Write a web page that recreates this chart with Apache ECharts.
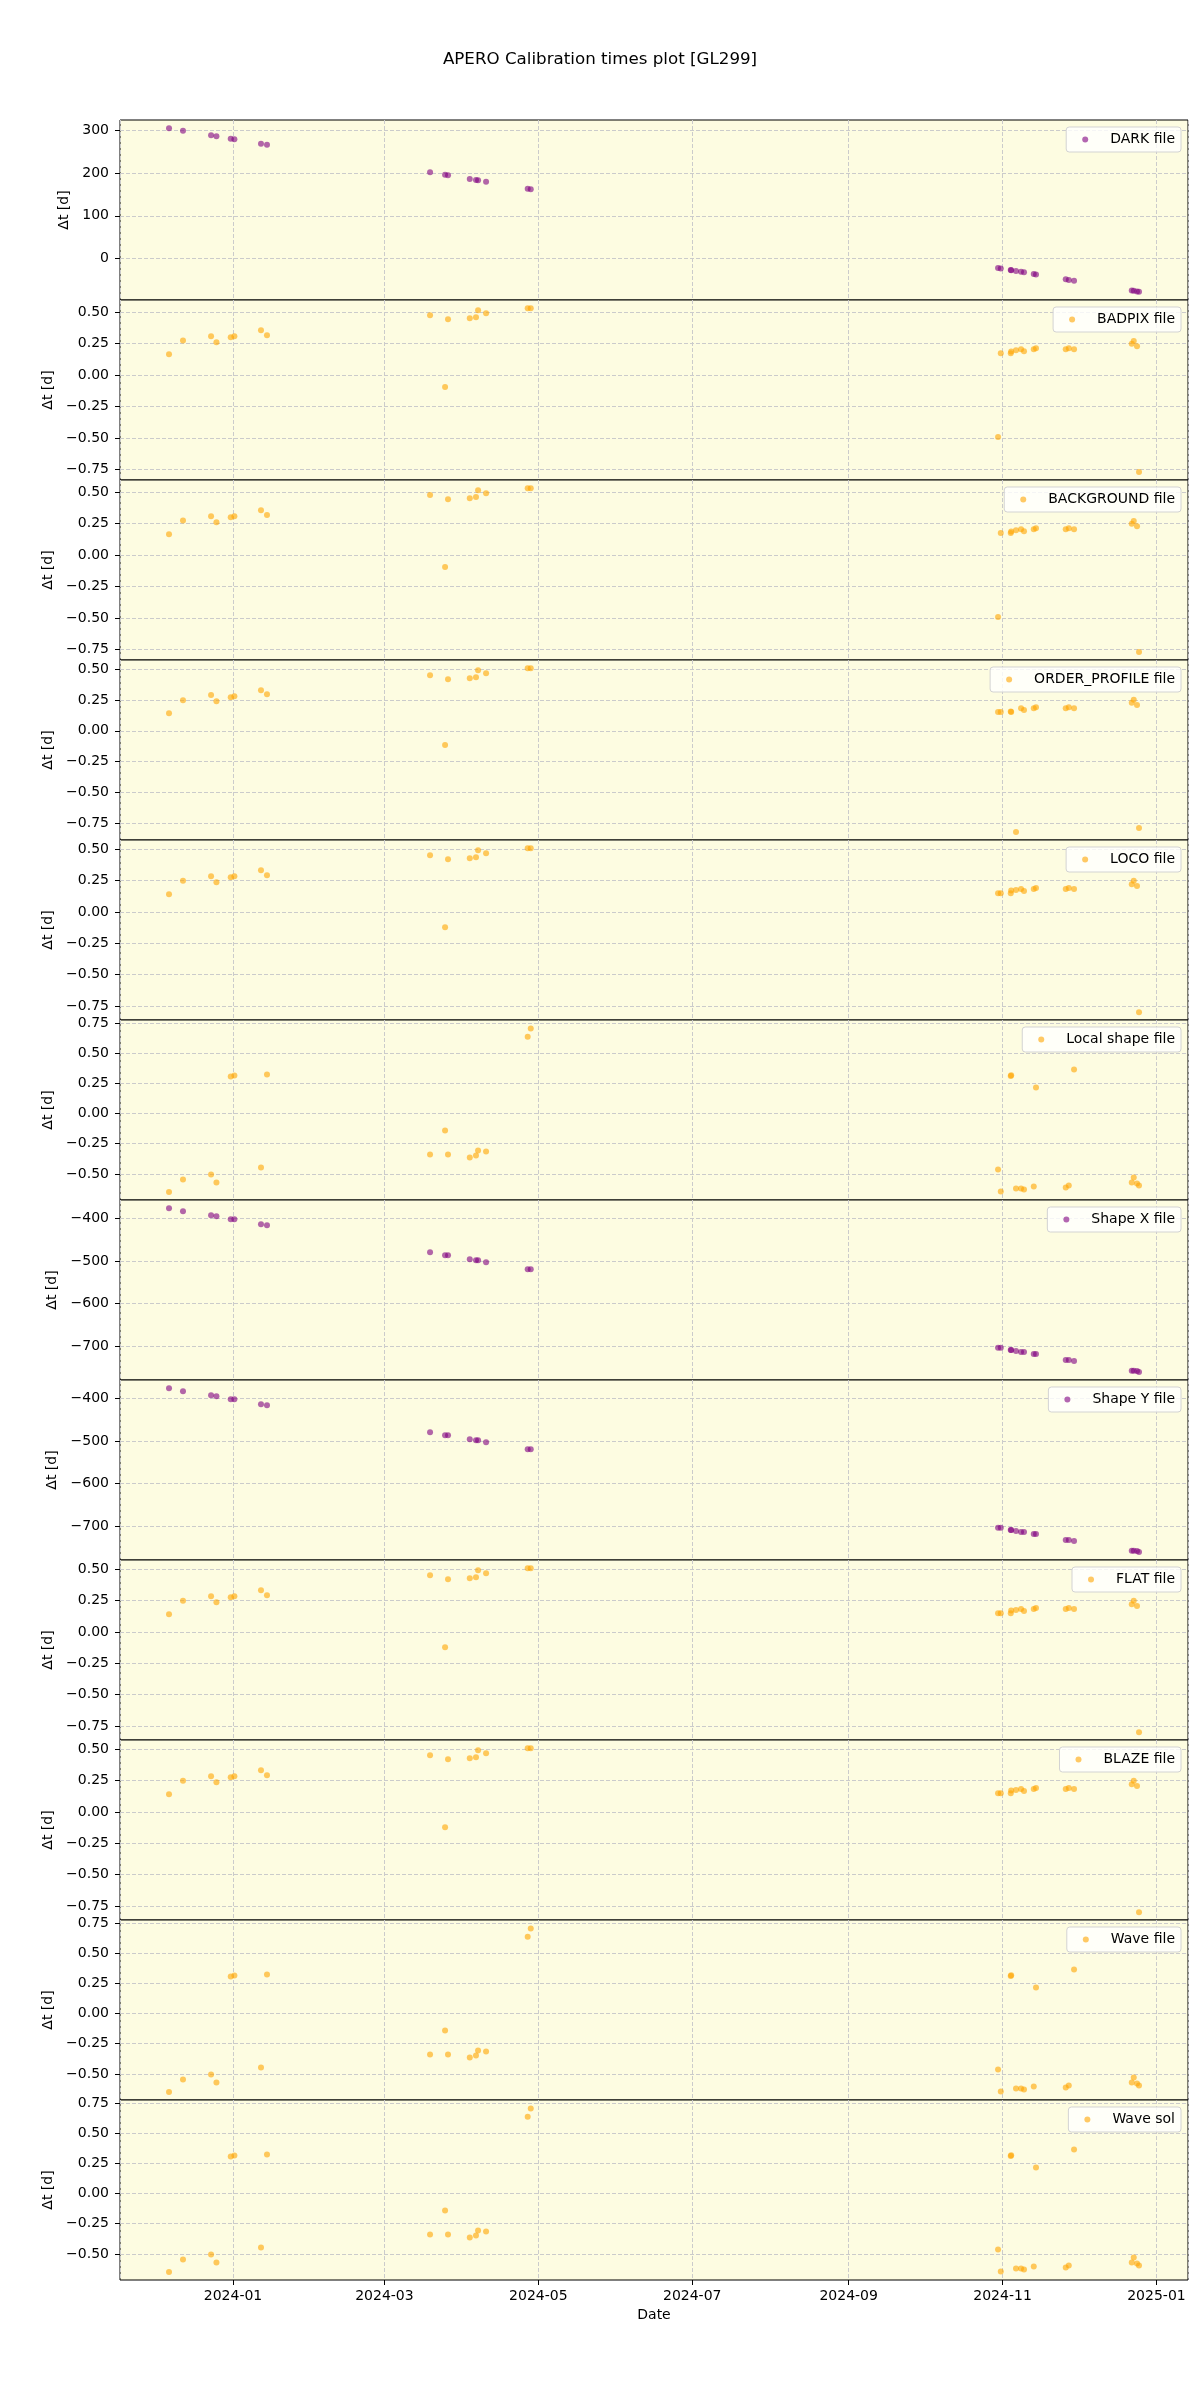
<!DOCTYPE html>
<html><head><meta charset="utf-8">
<script src="https://cdn.jsdelivr.net/npm/echarts@6/dist/echarts.min.js"></script>
<style>html,body{margin:0;padding:0;background:#fff}#c{width:1200px;height:2400px}</style>
</head><body><div id="c"></div><script>
// observation dates (shared by all panels)
const obsDates = [
 '2023-12-06 15:00','2023-12-12 04:00','2023-12-23 07:00','2023-12-25 10:00','2023-12-31 02:00','2024-01-01 13:00','2024-01-12 02:00','2024-01-14 11:00',
 '2024-03-19 02:00','2024-03-25 01:00','2024-03-26 05:00','2024-04-03 20:00','2024-04-06 07:00','2024-04-07 03:00','2024-04-10 07:00','2024-04-26 19:00','2024-04-28 00:00',
 '2024-10-30 05:00','2024-10-31 07:00','2024-11-04 06:00','2024-11-04 10:00','2024-11-06 08:00','2024-11-08 08:00','2024-11-09 12:00','2024-11-13 09:00','2024-11-14 06:00',
 '2024-11-26 01:00','2024-11-27 06:00','2024-11-29 08:00','2024-12-22 05:00','2024-12-23 00:00','2024-12-24 07:00','2024-12-25 02:00'
];
const darkFile = [305.9,300.0,289.2,287.1,281.4,280.0,269.4,267.0, 202.4,196.5,195.3,186.7,184.2,183.4,180.2,163.7,162.5,
 -22.7,-23.8,-27.7,-27.9,-29.8,-31.8,-33.0,-36.9,-37.8,-49.5,-50.7,-52.8,-75.7,-76.5,-77.8,-78.6];
const badpixFile = [0.167,0.275,0.31,0.262,0.302,0.31,0.357,0.318, 0.477,-0.095,0.445,0.453,0.461,0.516,0.492,0.532,0.532,
 -0.492,0.175,0.175,0.188,0.198,0.206,0.19,0.206,0.214,0.206,0.214,0.206,0.249,0.272,0.23,-0.77];
const backgroundFile = [0.167,0.275,0.31,0.262,0.302,0.31,0.357,0.318, 0.477,-0.095,0.445,0.453,0.461,0.516,0.492,0.532,0.532,
 -0.492,0.175,0.175,0.188,0.198,0.206,0.19,0.206,0.214,0.206,0.214,0.206,0.249,0.272,0.23,-0.77];
const orderProfileFile = [0.143,0.249,0.29,0.241,0.273,0.281,0.33,0.298, 0.452,-0.116,0.42,0.428,0.436,0.493,0.468,0.509,0.509,
 0.152,0.152,0.157,0.152,-0.822,0.184,0.168,0.184,0.192,0.184,0.192,0.184,0.227,0.252,0.209,-0.79];
const locoFile = [0.141,0.247,0.284,0.236,0.276,0.284,0.332,0.292, 0.451,-0.122,0.419,0.427,0.435,0.491,0.467,0.507,0.507,
 0.149,0.149,0.149,0.17,0.175,0.183,0.167,0.183,0.191,0.183,0.191,0.183,0.22,0.247,0.207,-0.798];
const localShapeFile = [-0.649,-0.546,-0.505,-0.571,0.306,0.315,-0.447,0.323, -0.339,-0.141,-0.339,-0.364,-0.348,-0.306,-0.315,0.637,0.704,
 -0.464,-0.646,0.311,0.318,-0.621,-0.621,-0.629,-0.604,0.215,-0.613,-0.596,0.364,-0.571,-0.53,-0.58,-0.596];
const shapeXFile = [-376.6,-383.6,-393,-395.3,-402.3,-402.3,-414,-416.4, -479.7,-486.7,-486.7,-496,-498.4,-498.4,-503.1,-519.5,-519.5,
 -704,-704,-709.4,-709.4,-711.7,-714,-714,-718.7,-718.7,-732.8,-732.8,-735.1,-757.9,-757.9,-758.5,-760.5];
const shapeYFile = [-376.6,-383.6,-393,-395.3,-402.3,-402.3,-414,-416.4, -479.7,-486.7,-486.7,-496,-498.4,-498.4,-503.1,-519.5,-519.5,
 -704,-704,-709.4,-709.4,-711.7,-714,-714,-718.7,-718.7,-732.8,-732.8,-735.1,-757.9,-757.9,-758.5,-760.5];
const flatFile = [0.141,0.247,0.284,0.236,0.276,0.284,0.332,0.292, 0.451,-0.122,0.419,0.427,0.435,0.491,0.467,0.507,0.507,
 0.149,0.149,0.149,0.17,0.175,0.183,0.167,0.183,0.191,0.183,0.191,0.183,0.22,0.247,0.207,-0.798];
const blazeFile = [0.141,0.247,0.284,0.236,0.276,0.284,0.332,0.292, 0.451,-0.122,0.419,0.427,0.435,0.491,0.467,0.507,0.507,
 0.149,0.149,0.149,0.17,0.175,0.183,0.167,0.183,0.191,0.183,0.191,0.183,0.22,0.247,0.207,-0.798];
const waveFile = [-0.649,-0.546,-0.505,-0.571,0.306,0.315,-0.447,0.323, -0.339,-0.141,-0.339,-0.364,-0.348,-0.306,-0.315,0.637,0.704,
 -0.464,-0.646,0.311,0.318,-0.621,-0.621,-0.629,-0.604,0.215,-0.613,-0.596,0.364,-0.571,-0.53,-0.58,-0.596];
const waveSol = [-0.649,-0.546,-0.505,-0.571,0.306,0.315,-0.447,0.323, -0.339,-0.141,-0.339,-0.364,-0.348,-0.306,-0.315,0.637,0.704,
 -0.464,-0.646,0.311,0.318,-0.621,-0.621,-0.629,-0.604,0.215,-0.613,-0.596,0.364,-0.571,-0.53,-0.58,-0.596];

// tick label values
const ticksDark = [0,100,200,300];
const ticksQuarter = [-0.75,-0.5,-0.25,0,0.25,0.5];
const ticksQuarterHi = [-0.5,-0.25,0,0.25,0.5,0.75];
const ticksShape = [-700,-600,-500,-400];

const panels = [
 {name:'DARK file', values:darkFile, color:'purple', min:-98, max:325.2, step:100, ticks:ticksDark, dec:0, gap:38},
 {name:'BADPIX file', values:badpixFile, color:'orange', min:-0.834, max:0.598, step:0.25, ticks:ticksQuarter, dec:2, gap:54},
 {name:'BACKGROUND file', values:backgroundFile, color:'orange', min:-0.833, max:0.597, step:0.25, ticks:ticksQuarter, dec:2, gap:54},
 {name:'ORDER_PROFILE file', values:orderProfileFile, color:'orange', min:-0.888, max:0.5755, step:0.25, ticks:ticksQuarter, dec:2, gap:54},
 {name:'LOCO file', values:locoFile, color:'orange', min:-0.86, max:0.572, step:0.25, ticks:ticksQuarter, dec:2, gap:54},
 {name:'Local shape file', values:localShapeFile, color:'orange', min:-0.716, max:0.775, step:0.25, ticks:ticksQuarterHi, dec:2, gap:54},
 {name:'Shape X file', values:shapeXFile, color:'purple', min:-779.5, max:-357.2, step:100, ticks:ticksShape, dec:0, gap:51},
 {name:'Shape Y file', values:shapeYFile, color:'purple', min:-779.5, max:-357.2, step:100, ticks:ticksShape, dec:0, gap:51},
 {name:'FLAT file', values:flatFile, color:'orange', min:-0.86, max:0.572, step:0.25, ticks:ticksQuarter, dec:2, gap:54},
 {name:'BLAZE file', values:blazeFile, color:'orange', min:-0.86, max:0.572, step:0.25, ticks:ticksQuarter, dec:2, gap:54},
 {name:'Wave file', values:waveFile, color:'orange', min:-0.716, max:0.775, step:0.25, ticks:ticksQuarterHi, dec:2, gap:54},
 {name:'Wave sol', values:waveSol, color:'orange', min:-0.716, max:0.775, step:0.25, ticks:ticksQuarterHi, dec:2, gap:54}
];

const xMin = new Date(2023,10,17,4,48).getTime();
const xMax = new Date(2025,0,13,12,0).getTime();
const FONT = 'DejaVu Sans';
const TOP0 = 120, PH = 180, LEFT = 120, PW = 1068;
const gridLine = {lineStyle:{type:[4,2], color:'#cbcbcb', width:1}};
const fmtNum = (v, dec) => {
  let s = Math.abs(v) < 1e-9 ? (0).toFixed(dec) : v.toFixed(dec);
  return s.replace('-', '\u2212');
};
const fmtDate = v => { const d = new Date(v); return d.getFullYear() + '-' + String(d.getMonth()+1).padStart(2,'0'); };

const grids = [], xAxes = [], yAxes = [], series = [], legends = [];
panels.forEach((p, i) => {
  const top = TOP0 + PH*i;
  const last = i === panels.length - 1;
  grids.push({left:LEFT, width:PW, top:top, height:PH, show:true, backgroundColor:'#fdfce1', borderColor:'#000', borderWidth:1, containLabel:false});
  xAxes.push({type:'time', gridIndex:i, min:xMin, max:xMax, splitNumber:5, position:'bottom',
    axisLine:{show:false, onZero:false}, axisTick:{show:last, length:5, lineStyle:{color:'#000'}},
    axisLabel:{show:last, formatter:fmtDate, margin:9, fontSize:14, color:'#000', fontFamily:FONT, hideOverlap:false},
    splitLine:Object.assign({show:true}, gridLine),
    name: last ? 'Date' : '', nameLocation:'middle', nameGap:28, nameTextStyle:{fontSize:14, color:'#000', fontFamily:FONT}});
  yAxes.push({type:'value', gridIndex:i, min:p.min, max:p.max, minInterval:p.step, maxInterval:p.step,
    axisLine:{show:false, onZero:false},
    axisTick:{show:true, length:5, lineStyle:{color:'#000'}, customValues:p.ticks},
    axisLabel:{customValues:p.ticks, margin:11, fontSize:14, color:'#000', fontFamily:FONT, formatter:v => fmtNum(v, p.dec)},
    splitLine:Object.assign({show:true}, gridLine),
    name:'\u0394t [d]', nameLocation:'middle', nameGap:p.gap, nameTextStyle:{fontSize:14, color:'#000', fontFamily:FONT}});
  series.push({type:'scatter', name:p.name, xAxisIndex:i, yAxisIndex:i, symbol:'circle', symbolSize:6,
    itemStyle:{color:p.color, opacity:0.6}, data:obsDates.map((d, j) => [d, p.values[j]])});
  legends.push({data:[p.name], right:19, top:top+7, icon:'circle', itemWidth:6, itemHeight:6, selectedMode:false,
    backgroundColor:'rgba(255,255,255,0.8)', borderColor:'#d3d3d3', borderWidth:1, borderRadius:3, padding:[4,6,4,16],
    textStyle:{fontSize:14, color:'#000', fontFamily:FONT, lineHeight:17, padding:[0,0,0,17]}});
});

const chart = echarts.init(document.getElementById('c'), null, {renderer:'canvas'});
chart.setOption({
  animation:false,
  backgroundColor:'#fff',
  title:{text:'APERO Calibration times plot [GL299]', left:'center', top:46, textStyle:{fontSize:16.7, fontWeight:'normal', color:'#000', fontFamily:FONT}},
  grid:grids, xAxis:xAxes, yAxis:yAxes, series:series, legend:legends
});
</script></body></html>
